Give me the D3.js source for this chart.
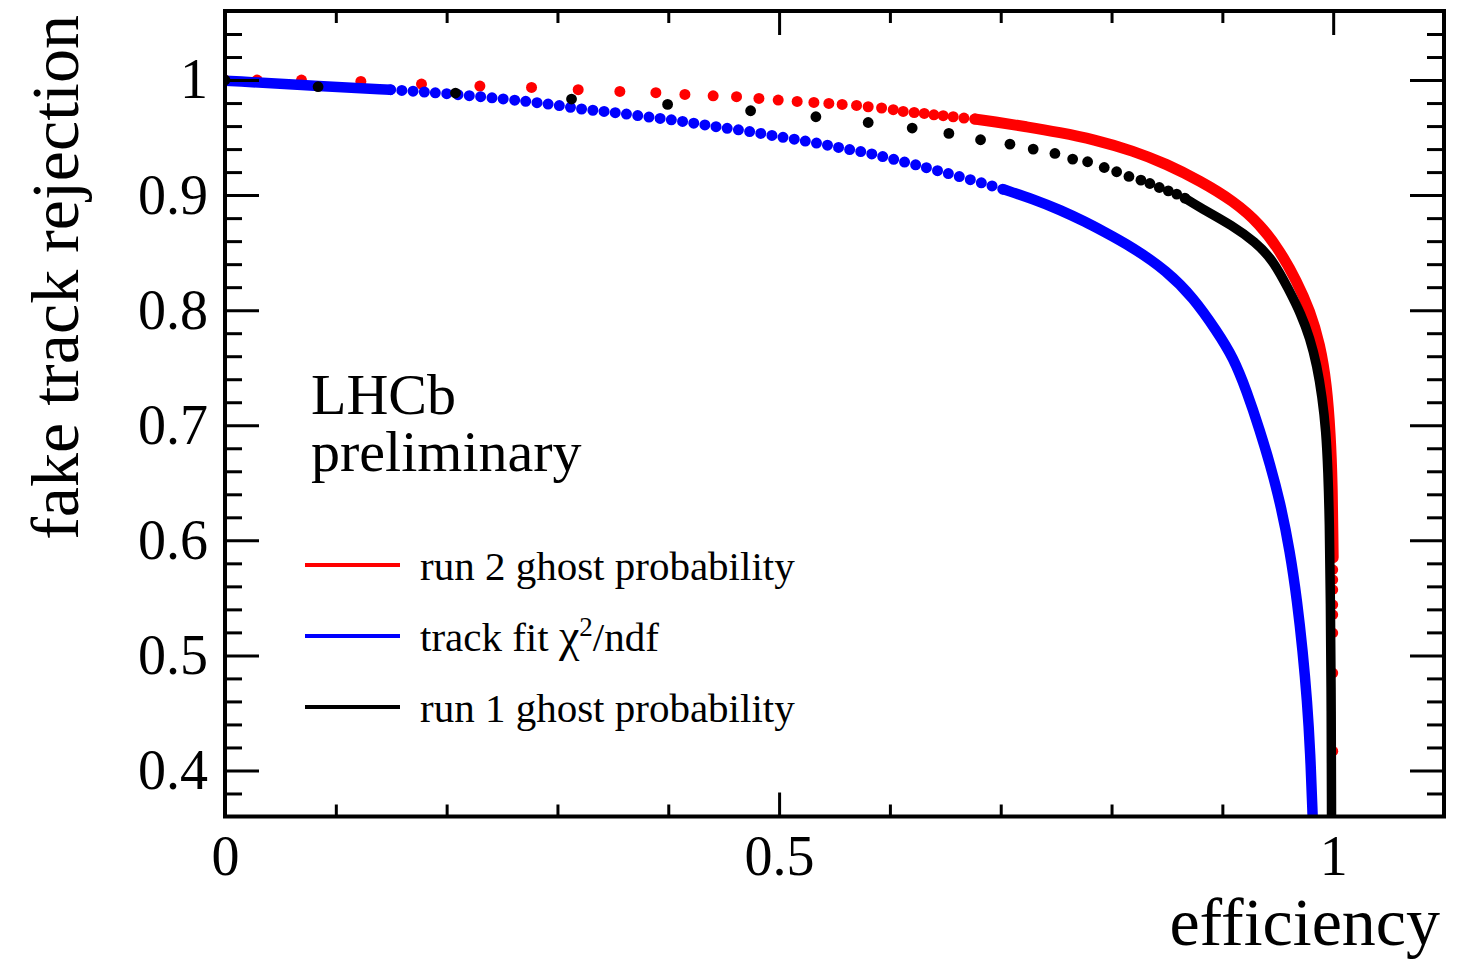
<!DOCTYPE html>
<html>
<head>
<meta charset="utf-8">
<script src="https://cdn.jsdelivr.net/npm/d3@7"></script>
<style>
body { margin: 0; background: #fff; }
svg { display: block; font-family: "Liberation Serif", "Times New Roman", serif; }
</style>
</head>
<body>
<svg width="1469" height="961"></svg>
<script>
// [efficiency, fake track rejection]

// run 2 ghost probability (red)
const run2Dots = [
    [0, 1.0], [0.029, 1.0], [0.069, 1.0], [0.1226, 0.9988], [0.1773, 0.9965],
    [0.23, 0.9948], [0.2766, 0.9936], [0.3187, 0.9916], [0.3563, 0.9901],
    [0.3888, 0.989], [0.415, 0.9875], [0.4405, 0.9863], [0.4616, 0.9855],
    [0.4818, 0.984], [0.4992, 0.9826], [0.5163, 0.9814], [0.5314, 0.9805],
    [0.5449, 0.9797], [0.5569, 0.9788], [0.5699, 0.9779], [0.5804, 0.9768],
    [0.5925, 0.9757], [0.603, 0.9742], [0.612, 0.9727], [0.6219, 0.9718],
    [0.631, 0.971], [0.6397, 0.9698], [0.6481, 0.969], [0.6571, 0.9681],
    [0.6668, 0.967], [0.6767, 0.9661]
];
const run2Line = [
    [0.6767, 0.9661], [0.6932, 0.964], [0.7234, 0.9594], [0.7534, 0.9544],
    [0.7835, 0.9485], [0.8196, 0.9385], [0.8497, 0.927], [0.8798, 0.9124],
    [0.9099, 0.895], [0.934, 0.8748], [0.9519, 0.8516], [0.967, 0.8255],
    [0.9791, 0.7994], [0.9881, 0.7704], [0.9941, 0.7357], [0.9975, 0.6922],
    [0.9992, 0.6487], [0.9998, 0.60], [1.0, 0.585]
];
const run2Tail = [
    [1.0, 0.5745], [1.0, 0.5658], [1.0, 0.5571], [1.0, 0.544], [1.0, 0.5353],
    [1.0, 0.5194], [1.0, 0.4846], [1.0, 0.4168]
];

// track fit chi2/ndf (blue)
const chi2Points = [
    [0, 0.9995], [0.0894, 0.9944], [0.1494, 0.9916], [0.2095, 0.9878],
    [0.2967, 0.9791], [0.3157, 0.9753], [0.3367, 0.9733], [0.3563, 0.9713],
    [0.378, 0.9683], [0.3985, 0.9661], [0.4201, 0.9631], [0.4405, 0.9597],
    [0.4616, 0.957], [0.4827, 0.9539], [0.5032, 0.9501], [0.5233, 0.9472],
    [0.5422, 0.9437], [0.5609, 0.94], [0.5804, 0.9368], [0.6, 0.9318],
    [0.621, 0.927], [0.6436, 0.9211], [0.6677, 0.9148], [0.6918, 0.9081],
    [0.7038, 0.9046], [0.7293, 0.8965], [0.7534, 0.8872], [0.7775, 0.8762],
    [0.7896, 0.87], [0.8196, 0.8544], [0.8497, 0.8342], [0.8737, 0.811],
    [0.8948, 0.782], [0.9099, 0.7588], [0.9219, 0.7298], [0.934, 0.6951],
    [0.943, 0.6661], [0.9519, 0.6341], [0.961, 0.5907], [0.9675, 0.5472],
    [0.9725, 0.5037], [0.9765, 0.4603], [0.9793, 0.4168], [0.9815, 0.359]
];

// run 1 ghost probability (black)
const run1Dots = [
    [0, 1.0], [0.084, 0.9942], [0.208, 0.9887], [0.3127, 0.9835], [0.3994, 0.9788],
    [0.4743, 0.9733], [0.5332, 0.9681], [0.5804, 0.9631], [0.6201, 0.9583],
    [0.6532, 0.9536], [0.6818, 0.9481], [0.7083, 0.9443], [0.7293, 0.94],
    [0.7489, 0.9362], [0.7649, 0.9313], [0.7784, 0.929], [0.7934, 0.924],
    [0.8046, 0.9203], [0.8157, 0.9162], [0.8265, 0.913], [0.8346, 0.9101],
    [0.8431, 0.9066], [0.8512, 0.9037], [0.8588, 0.9009], [0.8662, 0.8974]
];
const run1Line = [
    [0.8662, 0.8974], [0.8798, 0.8892], [0.9096, 0.8733], [0.9294, 0.8594],
    [0.9457, 0.8437], [0.9601, 0.8176], [0.9709, 0.7967], [0.979, 0.7758],
    [0.9854, 0.7515], [0.9899, 0.7254], [0.9935, 0.695], [0.9953, 0.6602],
    [0.9966, 0.6168], [0.9975, 0.55], [0.9983, 0.45], [0.9985, 0.359]
];

const xMajor = [0, 0.5, 1];
const xMinor = [0.1, 0.2, 0.3, 0.4, 0.6, 0.7, 0.8, 0.9];
const yMajor = [0.4, 0.5, 0.6, 0.7, 0.8, 0.9, 1];
const yMinor = [0.38, 0.42, 0.44, 0.46, 0.48, 0.52, 0.54, 0.56, 0.58,
    0.62, 0.64, 0.66, 0.68, 0.72, 0.74, 0.76, 0.78, 0.82, 0.84, 0.86, 0.88,
    0.92, 0.94, 0.96, 0.98, 1.02, 1.04];

const legendLabels = ["run 2 ghost probability", "track fit χ2/ndf", "run 1 ghost probability"];
const legendColors = ["#ff0000", "#0000ff", "#000000"];

const attr = {
    left: 225,
    right: 1444,
    top: 11,
    bottom: 816.5
};

const svg = d3.select("svg");

const scX = d3.scaleLinear().domain([0, 1.1]).range([attr.left, attr.right]);
const scY = d3.scaleLinear().domain([0.36, 1.06]).range([attr.bottom, attr.top]);

svg.append("rect")
    .attr("width", 1469).attr("height", 961).attr("fill", "#fff");

svg.append("clipPath").attr("id", "frame")
    .append("rect")
    .attr("x", attr.left).attr("y", attr.top)
    .attr("width", attr.right - attr.left)
    .attr("height", attr.bottom - attr.top);

const plot = svg.append("g").attr("clip-path", "url(#frame)");

const line = d3.line()
    .x(d => scX(d[0]))
    .y(d => scY(d[1]))
    .curve(d3.curveBasis);

function drawLine(data, color, width, dash) {
    const p = plot.append("path")
        .datum(data)
        .attr("fill", "none")
        .attr("stroke", color)
        .attr("stroke-width", width)
        .attr("stroke-linecap", "round")
        .attr("stroke-linejoin", "round")
        .attr("d", line);
    if (dash) p.attr("stroke-dasharray", dash);
}

function drawDots(data, color, r) {
    plot.append("g")
        .selectAll("circle")
        .data(data)
        .enter()
        .append("circle")
        .attr("cx", d => scX(d[0]))
        .attr("cy", d => scY(d[1]))
        .attr("r", r)
        .style("fill", color);
}

// red first, blue, black on top
drawLine(run2Line, "#ff0000", 11);
drawDots(run2Dots, "#ff0000", 5.5);
drawDots(run2Tail, "#ff0000", 5);

drawLine(chi2Points.filter(d => d[0] <= 0.15), "#0000ff", 10.5);
drawLine(chi2Points.filter(d => d[0] >= 0.1494 && d[0] <= 0.7038), "#0000ff", 11, "0 11.3");
drawLine(chi2Points.filter(d => d[0] >= 0.7038), "#0000ff", 10.5);

drawLine(run1Line, "#000000", 9.5);
drawDots(run1Dots, "#000000", 5.4);

// frame and ticks (ticks inside on all sides)
function addAxis(axis, tx, ty, labels) {
    const g = svg.append("g")
        .attr("transform", `translate(${tx},${ty})`)
        .call(axis);
    g.select(".domain").remove();
    g.selectAll(".tick line").attr("stroke", "#000").attr("stroke-width", 3);
    g.selectAll("text")
        .attr("fill", "#000")
        .style("font-family", '"Liberation Serif", serif')
        .style("font-size", "56px");
    if (!labels) g.selectAll("text").remove();
    return g;
}

const fmt = d => String(d);

addAxis(d3.axisBottom(scX).tickValues(xMajor).tickFormat(fmt)
    .tickSizeInner(-24).tickSizeOuter(0).tickPadding(19), 0, attr.bottom, true);
addAxis(d3.axisBottom(scX).tickValues(xMinor).tickSizeInner(-12).tickSizeOuter(0), 0, attr.bottom, false);
addAxis(d3.axisTop(scX).tickValues(xMajor).tickSizeInner(-24).tickSizeOuter(0), 0, attr.top, false);
addAxis(d3.axisTop(scX).tickValues(xMinor).tickSizeInner(-12).tickSizeOuter(0), 0, attr.top, false);

addAxis(d3.axisLeft(scY).tickValues(yMajor).tickFormat(fmt)
    .tickSizeInner(-34).tickSizeOuter(0).tickPadding(17), attr.left, 0, true);
addAxis(d3.axisLeft(scY).tickValues(yMinor).tickSizeInner(-17).tickSizeOuter(0), attr.left, 0, false);
addAxis(d3.axisRight(scY).tickValues(yMajor).tickSizeInner(-34).tickSizeOuter(0), attr.right, 0, false);
addAxis(d3.axisRight(scY).tickValues(yMinor).tickSizeInner(-17).tickSizeOuter(0), attr.right, 0, false);

svg.append("rect")
    .attr("x", attr.left).attr("y", attr.top)
    .attr("width", attr.right - attr.left)
    .attr("height", attr.bottom - attr.top)
    .attr("fill", "none")
    .attr("stroke", "#000")
    .attr("stroke-width", 4);

// axis titles
svg.append("text")
    .attr("x", 1440).attr("y", 945)
    .attr("text-anchor", "end")
    .style("font-size", "68px")
    .text("efficiency");

svg.append("text")
    .attr("transform", "translate(78,15) rotate(-90)")
    .attr("text-anchor", "end")
    .style("font-size", "68px")
    .text("fake track rejection");

// LHCb label, two lines in one text
const lhcb = svg.append("text").attr("x", 311).attr("y", 414)
    .style("font-size", "58px");
lhcb.append("tspan").attr("x", 311).text("LHCb");
lhcb.append("tspan").attr("x", 311).attr("dy", 57).text("preliminary");

// legend
const legend = svg.append("g");
legendLabels.forEach((label, i) => {
    const y = 565 + i * 71;
    legend.append("line")
        .attr("x1", 305).attr("x2", 400)
        .attr("y1", y).attr("y2", y)
        .attr("stroke", legendColors[i])
        .attr("stroke-width", 4);
    const t = legend.append("text")
        .attr("x", 420).attr("y", y + 15)
        .style("font-size", "41px");
    if (label.includes("χ2")) {
        const parts = label.split("2");
        t.append("tspan").text(parts[0].replace("χ", ""));
        t.append("tspan").style("font-size", "46px").text("χ");
        t.append("tspan").attr("dy", -15).style("font-size", "27px").text("2");
        t.append("tspan").attr("dy", 15).text(parts[1]);
    } else {
        t.text(label);
    }
});
</script>
</body>
</html>
